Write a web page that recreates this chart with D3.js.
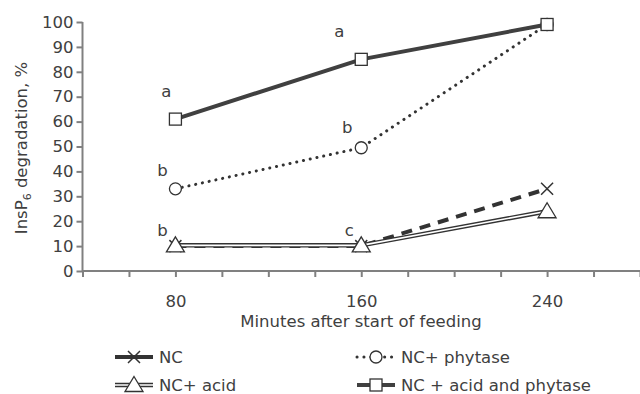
<!DOCTYPE html>
<html><head><meta charset="utf-8">
<script src="https://cdn.jsdelivr.net/npm/d3@7"></script>
<style>body{margin:0;background:#fff}svg{display:block}text{font-family:"DejaVu Sans",Verdana,sans-serif;fill:#404040}</style>
</head><body>
<script>
const minutes = [80, 160, 240];
const seriesNames = ["NC", "NC+ phytase", "NC+ acid", "NC + acid and phytase"];
const ncValues = [10, 10, 33];
const phytaseValues = [33, 49.5, 99];
const acidValues = [10.3, 10.3, 24];
const acidPhytaseValues = [61, 85, 99];
const yTicks = [0,10,20,30,40,50,60,70,80,90,100];
const xTickLabels = [80, 160, 240];
const letterText = ["a", "a", "b", "b", "b", "c"];
const letterMinute = [80, 160, 160, 80, 80, 160];
const letterValue = [61, 85, 49.5, 33, 10.3, 10.3];
// pixel offsets of each letter from its point (style, not data)
const letterOffset = [[-9,-22],[-22,-22],[-14,-15],[-13,-13],[-13,-9],[-12,-9]];

const W=640,H=394, FS=16.5;
const svg=d3.select("body").append("svg").attr("width",W).attr("height",H);
const x=d3.scaleLinear().domain([40,280]).range([82.5,640]);
const y=d3.scaleLinear().domain([0,100]).range([271,22]);
const axisCol="#808080", lineCol="#333";

const ya=svg.append("g").attr("transform","translate(82.5,0)")
  .call(d3.axisLeft(y).tickValues(yTicks).tickSize(6).tickPadding(3));
const xa=svg.append("g").attr("transform","translate(0,271)")
  .call(d3.axisBottom(x).tickValues(d3.range(40,281,20)).tickSize(6).tickPadding(18)
    .tickFormat(d=>xTickLabels.includes(d)?d:""));
[ya,xa].forEach(g=>{
  g.selectAll("path,line").attr("stroke",axisCol).attr("stroke-width",2);
  g.select(".domain").attr("d", g===ya? "M0,22V271":"M82.5,0H640");
  g.selectAll("text").attr("font-size",FS).attr("fill","#404040").attr("font-family","DejaVu Sans, Verdana, sans-serif");
});

svg.append("text").attr("x",361).attr("y",327).attr("text-anchor","middle").attr("font-size",FS)
  .text("Minutes after start of feeding");
const yt=svg.append("text").attr("transform","translate(27,148) rotate(-90)").attr("text-anchor","middle").attr("font-size",FS);
yt.append("tspan").text("InsP");
yt.append("tspan").attr("font-size",11).attr("dy",4).text("6");
yt.append("tspan").attr("dy",-4).text(" degradation, %");

const line=d3.line().x((d,i)=>x(minutes[i])).y(d=>y(d));

function marker(g,type,cx,cy){
  if(type==="x"){
    const s=6;
    g.append("path").attr("d",`M${cx-s},${cy-s}L${cx+s},${cy+s}M${cx-s},${cy+s}L${cx+s},${cy-s}`)
      .attr("stroke",lineCol).attr("stroke-width",1.5).attr("fill","none");
  } else if(type==="o"){
    g.append("circle").attr("cx",cx).attr("cy",cy).attr("r",6).attr("fill","#fff").attr("stroke",lineCol).attr("stroke-width",1.3);
  } else if(type==="tri"){
    g.append("path").attr("d",`M${cx},${cy-8.5}L${cx+9},${cy+6.5}L${cx-9},${cy+6.5}Z`)
      .attr("fill","#fff").attr("stroke",lineCol).attr("stroke-width",1.3);
  } else if(type==="sq"){
    g.append("rect").attr("x",cx-6).attr("y",cy-6).attr("width",12).attr("height",12)
      .attr("fill","#fff").attr("stroke",lineCol).attr("stroke-width",1.3);
  }
}
const styles={
  dashed:(g,d)=>g.append("path").attr("d",d).attr("fill","none").attr("stroke",lineCol).attr("stroke-width",4).attr("stroke-dasharray","11,8"),
  dotted:(g,d)=>g.append("path").attr("d",d).attr("fill","none").attr("stroke",lineCol).attr("stroke-width",3).attr("stroke-linecap","round").attr("stroke-dasharray","0.1,6.8"),
  double:(g,d)=>{g.append("path").attr("d",d).attr("fill","none").attr("stroke",lineCol).attr("stroke-width",4.5);
                 g.append("path").attr("d",d).attr("fill","none").attr("stroke","#fff").attr("stroke-width",1.6);},
  solid:(g,d)=>g.append("path").attr("d",d).attr("fill","none").attr("stroke","#404040").attr("stroke-width",4)
};
const series=[
  {name:seriesNames[0],vals:ncValues,style:"dashed",m:"x"},
  {name:seriesNames[1],vals:phytaseValues,style:"dotted",m:"o"},
  {name:seriesNames[2],vals:acidValues,style:"double",m:"tri"},
  {name:seriesNames[3],vals:acidPhytaseValues,style:"solid",m:"sq"}
];
[1,0,2,3].forEach(k=>{
  const s=series[k]; const g=svg.append("g");
  styles[s.style](g,line(s.vals));
  s.vals.forEach((v,i)=>marker(g,s.m,x(minutes[i]),y(v)));
});

letterText.forEach((t,i)=>{
  svg.append("text").attr("x",x(letterMinute[i])+letterOffset[i][0]).attr("y",y(letterValue[i])+letterOffset[i][1])
    .attr("text-anchor","middle").attr("font-size",FS).text(t);
});

const leg=[{s:series[0],x:115,y:357},{s:series[1],x:357,y:357},{s:series[2],x:115,y:385},{s:series[3],x:357,y:385}];
leg.forEach(L=>{
  const g=svg.append("g");
  styles[L.s.style](g,`M${L.x},${L.y}H${L.x+38}`);
  if(L.s.style==="dashed") g.select("path").attr("stroke-dasharray",null);
  marker(g,L.s.m,L.x+19,L.y);
  g.append("text").attr("x",L.x+44).attr("y",L.y+6).attr("font-size",FS).text(L.s.name);
});
</script>
</body></html>
